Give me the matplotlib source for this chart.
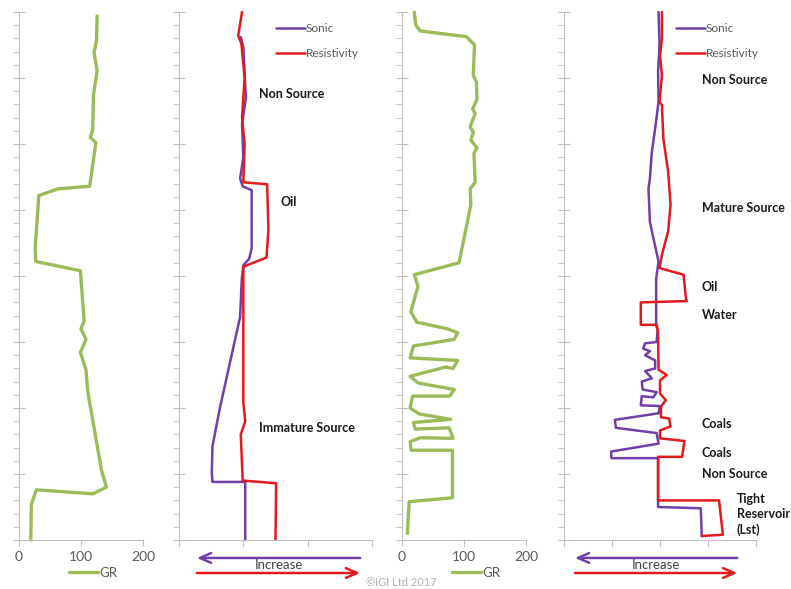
import matplotlib.pyplot as plt
from matplotlib.ticker import MultipleLocator

plt.rcParams['font.family'] = ['Lato', 'DejaVu Sans']

# track 1: gamma ray (depth in minor-tick units, 0 at top)
gr1_depth = [0.3, 2.2, 3.05, 4.5, 6.3, 8.9, 9.5, 9.9, 13.2, 13.4, 13.9, 17.9, 18.9, 19.6,
             23.4, 24.0, 24.8, 25.8, 27.1, 28.8, 34.7, 36.0, 36.5, 36.2, 37.3, 40]
gr1_value = [126, 125, 121, 126, 120, 119, 115, 124, 114, 63, 32, 26, 27, 99,
             105, 100, 108, 99, 108, 111, 133, 141, 119, 28, 20, 19]

# track 2: sonic / resistivity
son2_depth = [1.9, 2.7, 6.5, 8.5, 11.0, 12.6, 13.2, 13.5, 17.9, 18.7, 19.2, 20.3, 23.1,
              29.9, 32.9, 34.9, 35.6, 35.6, 40]
son2_value = [0.96, 1.0, 1.04, 0.98, 1.0, 0.95, 0.99, 1.13, 1.13, 1.09, 1.0, 0.975, 0.95,
              0.64, 0.52, 0.51, 0.52, 1.03, 1.03]
res2_depth = [0, 1.8, 2.4, 5, 8, 10, 12.9, 13.05, 16.5, 18.6, 19.3, 29.6, 31.0, 32.0,
              35.5, 35.7, 40]
res2_value = [0.98, 0.92, 0.97, 1.02, 0.98, 1.02, 1.0, 1.37, 1.39, 1.36, 1.0, 1.0, 1.03,
              0.96, 0.99, 1.51, 1.5]

# track 3: gamma ray
gr3_depth = [0, 1.0, 1.44, 1.87, 2.5, 4.8, 5.3, 6.6, 7.35, 7.7, 8.7, 9.1, 9.7, 10.3, 10.7,
             12.9, 13.4, 14.6, 19.0, 19.9, 20.8, 22.7, 23.5, 24.0, 24.3, 24.8, 25.3, 26.2,
             26.4, 27.0, 26.9, 27.6, 28.1, 28.6, 29.1, 29.1, 30.0, 30.45, 30.86, 31.1, 31.6,
             31.5, 32.3, 32.25, 32.55, 33.2, 33.2, 36.8, 37.1, 39.5]
gr3_value = [19.7, 22.4, 29.5, 104, 117, 115, 120, 121, 114, 118, 110, 115, 111, 121, 116,
             118, 110, 111, 92, 20, 25.7, 14.2, 24, 73, 89.7, 84.2, 18.5, 13.1,
             89.7, 82.5, 70.5, 13.1, 25.7, 84.2, 77, 17, 13.1, 27.9, 78.7, 18.5, 21.3,
             76, 82.5, 29.5, 13.1, 14.8, 81.4, 81.4, 11.5, 8.7]

# track 4: sonic / resistivity
son4_depth = [0, 2.5, 4.5, 6.8, 8.8, 10.6, 12.6, 13.4, 15.9, 17.1, 18.9, 20.2, 23.7, 24.1,
              25.0, 25.1, 25.5, 25.7, 26.0, 26.4, 27.0, 27.2, 27.75, 28.0, 28.6, 28.8, 29.2,
              29.1, 29.8, 29.85, 30.4, 30.9, 31.5, 31.9, 32.7, 33.3, 33.8, 33.8, 37.5, 37.6, 39.7]
son4_value = [1.97, 1.99, 1.96, 1.97, 1.90, 1.83, 1.79, 1.76, 1.79, 1.86, 1.97, 1.92, 1.92, 1.95,
              1.93, 1.69, 1.65, 1.79, 1.69, 1.90, 1.90, 1.69, 1.83, 1.62, 1.64, 1.93, 1.86,
              1.62, 1.60, 2.0, 1.97, 1.06, 1.08, 1.93, 1.97, 0.98, 0.99, 1.96, 1.96, 2.85, 2.87]
res4_depth = [0, 2.0, 3.3, 4.8, 6.8, 7.05, 9.6, 12.1, 14.6, 16.6, 18.4, 19.4, 19.9, 21.7,
              21.9, 22.0, 23.7, 23.7, 24.3, 27.1, 27.5, 27.9, 28.9, 29.4, 29.9, 30.7, 30.8,
              31.4, 31.7, 32.3, 32.5, 33.7, 33.7, 37.0, 37.0, 39.6, 39.7]
res4_value = [2.04, 2.04, 2.0, 2.04, 1.99, 2.04, 2.07, 2.17, 2.22, 2.17, 2.04, 1.99, 2.49, 2.54,
              2.56, 1.6, 1.6, 1.93, 1.96, 1.97, 2.14, 2.0, 2.0, 2.12, 2.02, 2.02, 2.19,
              2.22, 2.0, 2.0, 2.51, 2.46, 1.96, 1.96, 3.23, 3.31, 2.87]

labels2 = ["Non Source", "Oil", "Immature Source"]
labels2_depth = [6.2, 14.4, 31.5]
labels2_x = [1.24, 1.57, 1.24]
labels4 = ["Non Source", "Mature Source", "Oil", "Water", "Coals", "Coals", "Non Source",
           "Tight\nReservoir\n(Lst)"]
labels4_depth = [5.15, 14.85, 20.8, 22.95, 31.2, 33.4, 35.0, 38.1]
labels4_x = [2.875, 2.875, 2.875, 2.875, 2.875, 2.875, 2.875, 3.6]

GREEN = '#9BBB59'
PURPLE = '#7040A8'
RED = '#E31A1C'
GRID = '#BFBFBF'
TXT = '#595959'

W, H = 791, 589
fig = plt.figure(figsize=(W / 100, H / 100), dpi=100)


def track(left, right, xmax, xticks, show_labels):
    ax = fig.add_axes([left / W, (H - 540) / H, (right - left) / W, 528 / H])
    ax.set_xlim(0, xmax)
    ax.set_ylim(40, 0)
    for s in ['top', 'right']:
        ax.spines[s].set_visible(False)
    for s in ['left', 'bottom']:
        ax.spines[s].set_color(GRID)
    ax.yaxis.set_major_locator(MultipleLocator(5))
    ax.yaxis.set_minor_locator(MultipleLocator(1))
    ax.set_yticklabels([])
    ax.tick_params(axis='y', which='major', direction='inout', length=8, color=GRID)
    ax.tick_params(axis='y', which='minor', direction='out', length=4, color=GRID)
    ax.set_xticks(xticks)
    ax.tick_params(axis='x', direction='out', length=4, color=GRID, labelsize=10,
                   labelcolor=TXT, pad=4)
    if not show_labels:
        ax.set_xticklabels([])
    return ax


def arrows(ax, x0, x1):
    ax.annotate('', xy=(x0, -0.034), xytext=(x1, -0.034), xycoords='axes fraction',
                arrowprops=dict(arrowstyle='->,head_length=0.8,head_width=0.35',
                                color=PURPLE, lw=1.8), annotation_clip=False)
    ax.annotate('', xy=(x1, -0.0625), xytext=(x0, -0.0625), xycoords='axes fraction',
                arrowprops=dict(arrowstyle='->,head_length=0.8,head_width=0.35',
                                color=RED, lw=1.8), annotation_clip=False)
    ax.text((x0 + x1) / 2, -0.047, 'Increase', transform=ax.transAxes, ha='center',
            va='center', fontsize=9.5, color='#404040')


line_kw = dict(solid_joinstyle='round', solid_capstyle='round', clip_on=False)

ax1 = track(19, 143, 200, [0, 100, 200], True)
ax1.plot(gr1_value, gr1_depth, color=GREEN, lw=2.4, label='GR', **line_kw)
ax1.legend(loc='center', bbox_to_anchor=(0.6, -0.0625), frameon=False, fontsize=9.5,
           handlelength=2.2, labelcolor=TXT, handletextpad=0.1)

ax2 = track(179, 372, 3, [0, 1, 2, 3], False)
ax2.plot(son2_value, son2_depth, color=PURPLE, lw=1.8, label='Sonic', **line_kw)
ax2.plot(res2_value, res2_depth, color=RED, lw=1.8, label='Resistivity', **line_kw)
ax2.legend(loc='upper left', bbox_to_anchor=(0.45, 0.999), frameon=False, fontsize=8.5,
           handlelength=2.4, labelcolor=TXT, handletextpad=0.1, labelspacing=1.15)
for t, x, d in zip(labels2, labels2_x, labels2_depth):
    ax2.text(x, d, t, fontsize=9, fontweight='bold', color='#1A1A1A', va='center')
arrows(ax2, 0.078, 0.953)

ax3 = track(402, 526, 200, [0, 100, 200], True)
ax3.plot(gr3_value, gr3_depth, color=GREEN, lw=2.4, label='GR', **line_kw)
ax3.legend(loc='center', bbox_to_anchor=(0.6, -0.0625), frameon=False, fontsize=9.5,
           handlelength=2.2, labelcolor=TXT, handletextpad=0.1)

ax4 = track(564, 756, 4, [0, 1, 2, 3, 4], False)
ax4.plot(son4_value, son4_depth, color=PURPLE, lw=1.8, label='Sonic', **line_kw)
ax4.plot(res4_value, res4_depth, color=RED, lw=1.8, label='Resistivity', **line_kw)
ax4.legend(loc='upper left', bbox_to_anchor=(0.53, 0.999), frameon=False, fontsize=8.5,
           handlelength=2.4, labelcolor=TXT, handletextpad=0.1, labelspacing=1.15)
for t, x, d in zip(labels4, labels4_x, labels4_depth):
    ax4.text(x, d, t, fontsize=9, fontweight='bold', color='#1A1A1A', va='center',
             linespacing=1.3)
arrows(ax4, 0.042, 0.917)

fig.text(366 / W, 1 - 582 / H, '\u00a9IGI Ltd 2017', fontsize=8, color='#B0B0B0',
         va='center')

fig.savefig('out.png', dpi=100)
